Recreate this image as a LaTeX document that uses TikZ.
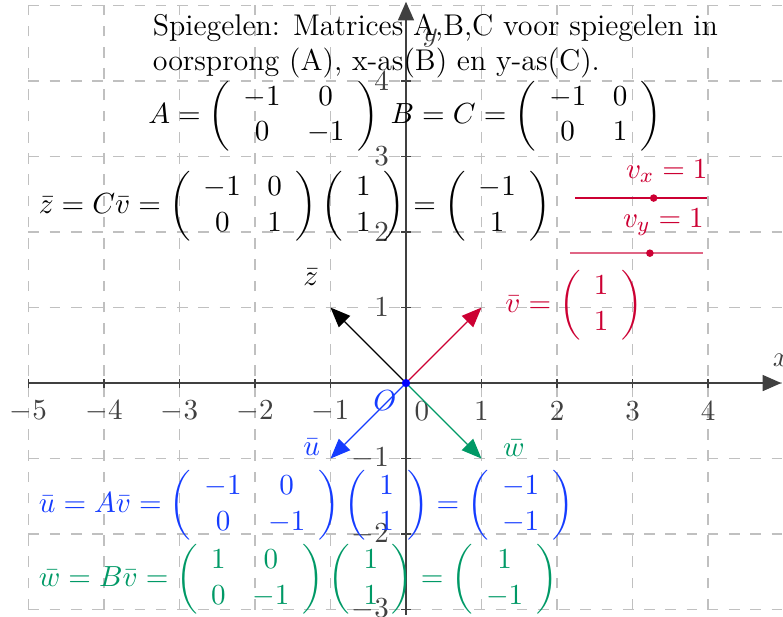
\documentclass[tikz,border=0pt]{standalone}
\usepackage{amsmath}
\usetikzlibrary{arrows.meta}
\definecolor{vred}{RGB}{204,0,51}
\definecolor{ublue}{RGB}{21,60,255}
\definecolor{wgreen}{RGB}{0,153,102}
\definecolor{axgray}{RGB}{64,64,64}
\definecolor{gridgray}{RGB}{192,192,192}
\tikzset{
  gridline/.style={gridgray, dash pattern=on 4pt off 4pt, line width=0.5pt},
  axisline/.style={axgray, line width=0.6pt, -{Triangle[length=7pt,width=6pt]}},
  vec/.style={line width=0.5pt, -{Triangle[length=7.5pt,width=6pt]}},
  ticklab/.style={axgray, inner sep=0pt, font=\fontsize{11.3}{13.5}\selectfont},
  txt/.style={inner sep=0pt, font=\fontsize{11.3}{13.5}\selectfont},
}
\begin{document}
\begin{tikzpicture}[x=1cm,y=1cm]
\useasboundingbox (-5.377,-3.086) rectangle (4.993,5.073);
% grid
\foreach \i in {-5,...,4} \draw[gridline] (\i,-3) -- (\i,5.07);
\foreach \j in {-3,...,5} \draw[gridline] (-5,\j) -- (5,\j);
% axes
\coordinate (xs) at (-5,0); \coordinate (xe) at (4.97,0);
\coordinate (ys) at (0,-3.07); \coordinate (ye) at (0,5.05);
\draw[axisline] (xs) -- (xe);
\draw[axisline] (ys) -- (ye);
\foreach \i in {-5,...,-1,1,2,3,4} {
  \draw[axgray, line width=0.6pt] (\i,-0.06) -- (\i,0.06);
  \node[ticklab] (xl\i) at (\i,-0.37) {$\i$};
}
\foreach \j in {-3,...,-1,1,2,3,4} {
  \draw[axgray, line width=0.6pt] (-0.06,\j) -- (0.06,\j);
  \node[ticklab, anchor=east] (yl\j) at (-0.22,\j) {$\j$};
}
\node[ticklab] (zero) at (0.21,-0.37) {$0$};
\node[ticklab] (xlab) at (4.97,0.3) {$x$};
\node[ticklab] (ylab) at (0.32,4.57) {$y$};
% vectors
\coordinate (O) at (0,0);
\coordinate (vend) at (1,1);
\coordinate (zend) at (-1,1);
\coordinate (uend) at (-1,-1);
\coordinate (wend) at (1,-1);
\draw[vec, vred] (O) -- (vend);
\draw[vec, black] (O) -- (zend);
\draw[vec, ublue] (O) -- (uend);
\draw[vec, wgreen] (O) -- (wend);
\fill[blue] (O) circle (0.055);
\node[txt, ublue] (Olab) at (-0.28,-0.23) {$O$};
\node[txt] (zlab) at (-1.26,1.40) {$\bar{z}$};
\node[txt, ublue] (ulab) at (-1.25,-0.85) {$\bar{u}$};
\node[txt, wgreen] (wlab) at (1.43,-0.86) {$\bar{w}$};
% title
\node[txt, anchor=base west] (title1) at (-3.36,4.60)
  {Spiegelen: Matrices A,B,C voor spiegelen in};
\node[txt, anchor=base west] (title2) at (-3.36,4.14)
  {oorsprong (A), x-as(B) en y-as(C).};
% matrices
\node[txt, anchor=west] (Amat) at (-3.42,3.54)
  {$A=\left(\begin{array}{cc} -1 & 0\\ 0 & -1\end{array}\right)$};
\node[txt, anchor=west] (BCmat) at (-0.21,3.54)
  {$B=C=\left(\begin{array}{cc} -1 & 0\\ 0 & 1\end{array}\right)$};
\node[txt, anchor=west] (zeq) at (-4.87,2.34)
  {$\bar{z}=C\bar{v}=\left(\begin{array}{cc} -1 & 0\\ 0 & 1\end{array}\right)\left(\begin{array}{c} 1\\ 1\end{array}\right)=\left(\begin{array}{c} -1\\ 1\end{array}\right)$};
\node[txt, anchor=west, vred] (veq) at (1.31,1.03)
  {$\bar{v}=\left(\begin{array}{c} 1\\ 1\end{array}\right)$};
\node[txt, anchor=west, ublue] (ueq) at (-4.87,-1.62)
  {$\bar{u}=A\bar{v}=\left(\begin{array}{cc} -1 & 0\\ 0 & -1\end{array}\right)\left(\begin{array}{c} 1\\ 1\end{array}\right)=\left(\begin{array}{c} -1\\ -1\end{array}\right)$};
\node[txt, anchor=west, wgreen] (weq) at (-4.87,-2.60)
  {$\bar{w}=B\bar{v}=\left(\begin{array}{cc} 1 & 0\\ 0 & -1\end{array}\right)\left(\begin{array}{c} 1\\ 1\end{array}\right)=\left(\begin{array}{c} 1\\ -1\end{array}\right)$};
% sliders
\coordinate (s1a) at (2.24,2.45); \coordinate (s1b) at (3.99,2.45);
\coordinate (s2a) at (2.17,1.72); \coordinate (s2b) at (3.93,1.72);
\draw[vred, line width=0.8pt] (s1a) -- (s1b);
\draw[vred!60, line width=0.8pt] (s2a) -- (s2b);
\fill[vred] (3.28,2.45) circle (0.05);
\fill[vred] (3.23,1.72) circle (0.05);
\node[txt, vred, anchor=east] (vx) at (4.0,2.81) {$v_x=1$};
\node[txt, vred, anchor=east] (vy) at (3.95,2.13) {$v_y=1$};
\end{tikzpicture}
\end{document}
